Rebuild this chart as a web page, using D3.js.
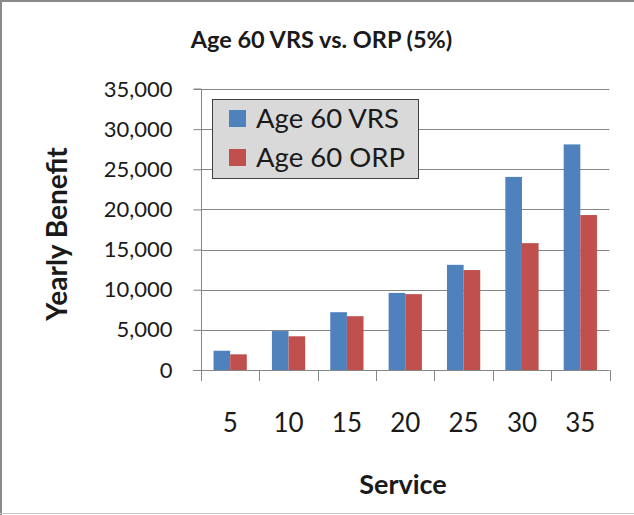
<!DOCTYPE html>
<html>
<head>
<meta charset="utf-8">
<script src="https://cdn.jsdelivr.net/npm/d3@7"></script>
<style>
  body { margin: 0; background: #fff; }
  text { font-family: Lato, "Open Sans", sans-serif; fill: #1a1a1a; }
</style>
</head>
<body>
<div id="chart"></div>
<script>
const service = ["5", "10", "15", "20", "25", "30", "35"];
const seriesNames = ["Age 60 VRS", "Age 60 ORP"];
const vrs = [2400, 4850, 7200, 9600, 13100, 24050, 28100];
const orp = [1950, 4200, 6700, 9450, 12450, 15800, 19300];
const yTicks = [0, 5000, 10000, 15000, 20000, 25000, 30000, 35000];

const width = 634, height = 515;
const colors = ["#4f81bd", "#c0504d"];

const svg = d3.select("#chart").append("svg")
  .attr("width", width)
  .attr("height", height);

// outer frame
svg.append("path")
  .attr("d", `M1,${height} V1 H${width}`)
  .attr("fill", "none")
  .attr("stroke", "#8a8a8a")
  .attr("stroke-width", 2);
svg.append("line")
  .attr("x1", 0).attr("x2", width)
  .attr("y1", height - 1.5).attr("y2", height - 1.5)
  .attr("stroke", "#c8c8c8");

const x = d3.scaleBand()
  .domain(service)
  .range([201, 609.5])
  .paddingInner(0.43)
  .paddingOuter(0.215);

const xs = d3.scaleBand()
  .domain(seriesNames)
  .range([0, x.bandwidth()]);

const y = d3.scaleLinear()
  .domain([0, 35000])
  .range([370, 89]);

// gridlines
svg.append("g")
  .selectAll("line")
  .data(yTicks.filter(d => d > 0))
  .enter().append("line")
  .attr("x1", 201).attr("x2", 609.5)
  .attr("y1", d => Math.round(y(d)) + 0.5)
  .attr("y2", d => Math.round(y(d)) + 0.5)
  .attr("stroke", "#868686");

// bars
const table = service.map((s, i) => ({ s, values: [vrs[i], orp[i]] }));

const group = svg.append("g")
  .selectAll("g")
  .data(table)
  .enter().append("g")
  .attr("transform", d => `translate(${x(d.s)},0)`);

group.selectAll("rect")
  .data(d => d.values.map((v, k) => ({ name: seriesNames[k], v, k })))
  .enter().append("rect")
  .attr("x", d => xs(d.name))
  .attr("width", xs.bandwidth())
  .attr("y", d => y(d.v))
  .attr("height", d => y(0) - y(d.v))
  .attr("fill", d => colors[d.k]);

// y axis
const yAxis = svg.append("g")
  .attr("transform", "translate(201.5,0)")
  .call(d3.axisLeft(y).tickValues(yTicks).tickFormat(d3.format(",")).tickSize(8).tickPadding(21));
yAxis.selectAll("path, line").attr("stroke", "#868686");
yAxis.selectAll("text")
  .style("font-size", "22px")
  .attr("fill", "#1a1a1a");
yAxis.select(".domain").attr("d", `M-8,${y(35000)}H0V${y(0)}`);

// x axis: ticks at category boundaries
const bounds = service.map(s => x(s) - x.step() * x.paddingInner() / 2).concat([609.5]);
svg.append("line")
  .attr("x1", 193).attr("x2", 609.5)
  .attr("y1", 370.5).attr("y2", 370.5)
  .attr("stroke", "#868686");
svg.append("g")
  .selectAll("line")
  .data(bounds)
  .enter().append("line")
  .attr("x1", d => Math.round(d) + 0.5)
  .attr("x2", d => Math.round(d) + 0.5)
  .attr("y1", 370).attr("y2", 381)
  .attr("stroke", "#868686");

svg.append("g")
  .selectAll("text")
  .data(service)
  .enter().append("text")
  .attr("x", d => x(d) + x.bandwidth() / 2)
  .attr("y", 431.5)
  .attr("text-anchor", "middle")
  .style("font-size", "26px")
  .text(d => d);

// title and axis titles
svg.append("text")
  .attr("x", 321.5).attr("y", 48)
  .attr("text-anchor", "middle")
  .style("font-size", "23.5px")
  .style("font-weight", "bold")
  .text("Age 60 VRS vs. ORP (5%)");

svg.append("text")
  .attr("x", 403).attr("y", 494)
  .attr("text-anchor", "middle")
  .style("font-size", "27px")
  .style("font-weight", "bold")
  .text("Service");

svg.append("text")
  .attr("transform", "translate(67,234) rotate(-90)")
  .attr("text-anchor", "middle")
  .style("font-size", "28px")
  .style("font-weight", "bold")
  .text("Yearly Benefit");

// legend
const legend = svg.append("g");
legend.append("rect")
  .attr("x", 212.5).attr("y", 99.5)
  .attr("width", 206).attr("height", 79)
  .attr("fill", "#d9d9d9")
  .attr("stroke", "#404040");

const item = legend.selectAll("g")
  .data(seriesNames)
  .enter().append("g")
  .attr("transform", (d, i) => `translate(229,${110 + i * 39})`);
item.append("rect")
  .attr("width", 17).attr("height", 17)
  .attr("fill", (d, i) => colors[i]);
item.append("text")
  .attr("x", 27).attr("y", 17.5)
  .style("font-size", "27.5px")
  .text(d => d);
</script>
</body>
</html>
